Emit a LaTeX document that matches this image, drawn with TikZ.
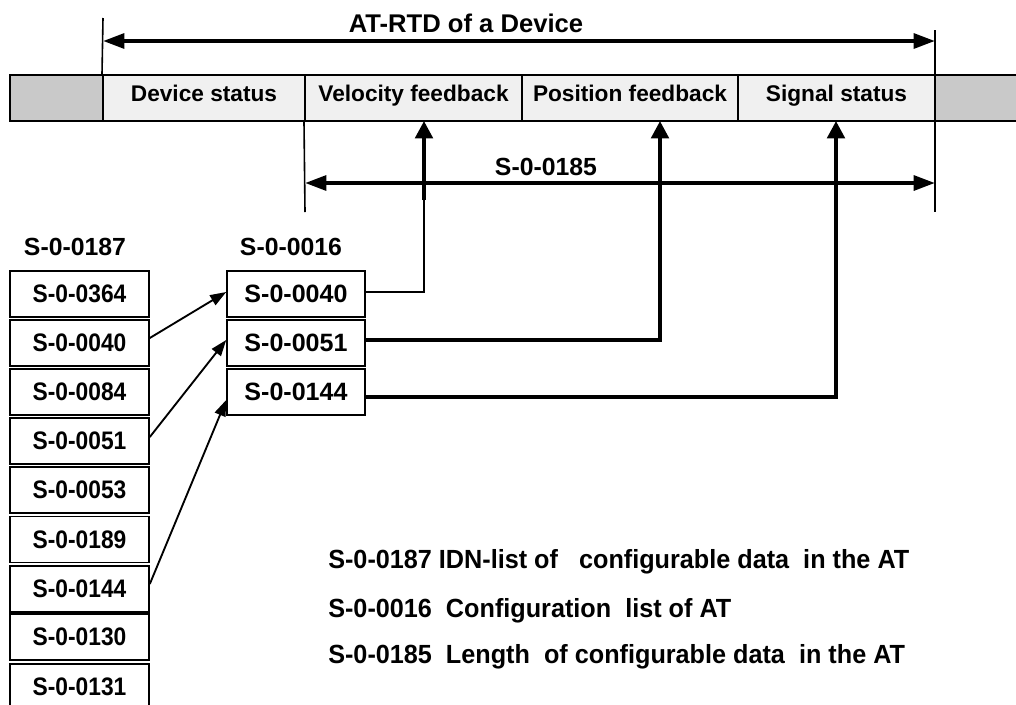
\documentclass[tikz,border=0pt]{standalone}
\usepackage{fontspec}
\setmainfont{Liberation Sans}
\newfontfamily\condf{Liberation Sans}[FakeStretch=0.9]
\newfontfamily\legf{Liberation Sans}[FakeStretch=0.96]
\usetikzlibrary{arrows.meta,calc}
\newlength\pxu \setlength\pxu{0.75pt}
\tikzset{
  cellbox/.style={draw, line width=1.5pt, minimum height=46\pxu, inner sep=0pt,
    font=\fontsize{17}{20}\selectfont\bfseries, text height=0.73em, text depth=0.21em},
  lbox/.style={draw, line width=1.2pt, minimum width=139\pxu, minimum height=46\pxu, inner sep=0pt,
    font=\condf\fontsize{19}{22}\selectfont\bfseries},
  rbox/.style={draw, line width=1.2pt, minimum width=138\pxu, minimum height=46\pxu, inner sep=0pt,
    font=\fontsize{18.8}{22}\selectfont\bfseries},
  lbl/.style={inner sep=0pt, anchor=base, font=\fontsize{18.6}{22}\selectfont\bfseries},
  ttl/.style={inner sep=0pt, anchor=base, font=\fontsize{19.2}{22}\selectfont\bfseries},
  legtxt/.style={inner sep=0pt, anchor=base west, font=\legf\fontsize{19.7}{22}\selectfont\bfseries},
  bigarrow/.style={line width=3pt, {Triangle[length=16pt,width=11pt]}-{Triangle[length=16pt,width=11pt]}},
  uparrow/.style={line width=3pt, -{Triangle[length=13pt,width=13pt]}},
  diagarrow/.style={line width=1.4pt, -{Triangle[length=12pt,width=8.5pt]}},
  tick/.style={line width=1.2pt},
}
\begin{document}
\begin{tikzpicture}[x=0.75pt,y=-0.75pt]
\clip (0,0) rectangle (1016,704);
\fill[white] (0,0) rectangle (1016,704);
% bar
\node[cellbox, fill=gray!42, minimum width=93\pxu] (c0) at (56.5,98) {};
\node[cellbox, fill=gray!12, minimum width=202\pxu] (cds) at (204,98) {Device status};
\node[cellbox, fill=gray!12, minimum width=217\pxu] (cvf) at (413.5,98) {Velocity feedback};
\node[cellbox, fill=gray!12, minimum width=216\pxu] (cpf) at (630,98) {Position feedback};
\node[cellbox, fill=gray!12, minimum width=197\pxu] (css) at (836.5,98) {Signal status};
\node[cellbox, fill=gray!42, minimum width=83\pxu] (c5) at (976.5,98) {};
% ticks
\coordinate (tkA1) at (103,18);
\coordinate (tkB1) at (935,30);
\coordinate (tkB2) at (935,212);
\coordinate (tkC2) at (305,212);
\draw[tick] (tkA1) -- (cds.north west);
\draw[tick] (tkB1) -- (tkB2);
\draw[tick] (cvf.south west) -- (tkC2);
% dimension arrows
\coordinate (aL) at (103,41);
\coordinate (aR) at (935,41);
\coordinate (bL) at (305,183);
\coordinate (bR) at (935,183);
\draw[bigarrow] (aL) -- (aR);
\draw[bigarrow] (bL) -- (bR);
\node[ttl] (title) at (466,32) {AT-RTD of a Device};
\node[lbl] (len) at (546,175) {S-0-0185};
% headers
\node[lbl] (h187) at (75,255) {S-0-0187};
\node[lbl] (h016) at (291,255) {S-0-0016};
% left column
\node[lbox] (l1) at (79.5,294) {S-0-0364};
\node[lbox] (l2) at (79.5,343) {S-0-0040};
\node[lbox] (l3) at (79.5,392) {S-0-0084};
\node[lbox] (l4) at (79.5,441) {S-0-0051};
\node[lbox] (l5) at (79.5,490) {S-0-0053};
\node[lbox] (l6) at (79.5,539.5) {S-0-0189};
\node[lbox] (l7) at (79.5,589) {S-0-0144};
\node[lbox] (l8) at (79.5,637) {S-0-0130};
\node[lbox] (l9) at (79.5,687) {S-0-0131};
% right column
\node[rbox] (r1) at (296,294) {S-0-0040};
\node[rbox] (r2) at (296,343) {S-0-0051};
\node[rbox] (r3) at (296,392) {S-0-0144};
% diagonal arrows
\draw[diagarrow] ($(l2.east)+(0,-5)$) -- ($(r1.west)+(0,-2)$);
\draw[diagarrow] ($(l4.east)+(0,-4)$) -- ($(r2.west)+(0,-3)$);
\draw[diagarrow] ($(l7.east)+(0,-5)$) -- ($(r3.west)+(0,8)$);
% connectors to bar
\coordinate (t1) at (424,121);
\coordinate (t2) at (660,121);
\coordinate (t3) at (836,121);
\draw[line width=1.5pt] ($(r1.east)+(0,-2)$) -| (424,200);
\draw[uparrow] (424,200) -- (t1);
\draw[line width=2.6pt] ($(r2.east)+(0,-3)$) -| (660,200);
\draw[uparrow] (660,200) -- (t2);
\draw[line width=2.6pt] ($(r3.east)+(0,5)$) -| (836,200);
\draw[uparrow] (836,200) -- (t3);
% legend
\node[legtxt] (lg1) at (328,568) {S-0-0187 IDN-list of\ \ \ configurable data\ \ in the AT};
\node[legtxt] (lg2) at (328,617) {S-0-0016\ \ Configuration\ \ list of AT};
\node[legtxt] (lg3) at (328,663) {S-0-0185\ \ Length\ \ of configurable data\ \ in the AT};
\end{tikzpicture}
\end{document}
